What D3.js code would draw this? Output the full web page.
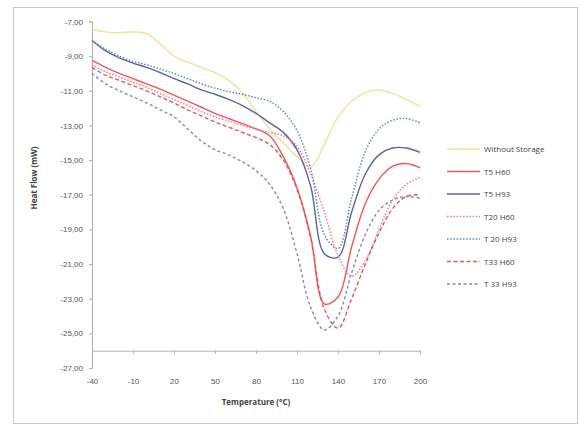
<!DOCTYPE html>
<html>
<head>
<meta charset="utf-8">
<script src="https://cdn.jsdelivr.net/npm/d3@7"></script>
<style>
  html, body { margin: 0; padding: 0; background: #fff; }
  svg { display: block; font-family: "Open Sans", "Liberation Sans", sans-serif; }
</style>
</head>
<body>
<svg id="chart" width="580" height="426"></svg>
<script>
// Temperature grid (°C)
const temperature = [-40, -30, -20, -10, 0, 10, 20, 30, 40, 50, 60, 70, 80, 90, 100, 110, 120, 130, 140, 150, 160, 170, 180, 190, 200];

// Heat flow (mW) for each storage condition
const withoutStorage = [-7.45, -7.6, -7.65, -7.6, -7.7, -8.3, -9.0, -9.35, -9.65, -9.95, -10.4, -11.1, -12.2, -13.2, -14.0, -14.8, -15.4, -14.1, -12.5, -11.6, -11.1, -10.95, -11.15, -11.5, -11.9];
const t5h60 = [-9.25, -9.65, -10.0, -10.3, -10.6, -10.9, -11.25, -11.6, -11.95, -12.3, -12.6, -12.9, -13.2, -13.6, -14.8, -16.6, -19.4, -23.3, -22.9, -20.0, -17.5, -16.1, -15.35, -15.2, -15.45];
const t5h93 = [-8.1, -8.7, -9.1, -9.4, -9.65, -9.95, -10.3, -10.6, -10.95, -11.2, -11.5, -11.85, -12.3, -12.85, -13.4, -14.4, -16.5, -20.4, -20.6, -18.0, -15.8, -14.7, -14.3, -14.3, -14.55];
const t20h60 = [-9.5, -9.9, -10.2, -10.5, -10.8, -11.15, -11.5, -11.85, -12.2, -12.5, -12.75, -13.0, -13.2, -13.4, -13.6, -14.2, -15.8, -18.0, -20.5, -21.7, -20.8, -19.0, -17.3, -16.4, -16.0];
const t20h93 = [-8.1, -8.6, -9.0, -9.3, -9.5, -9.75, -10.0, -10.3, -10.6, -10.85, -11.05, -11.2, -11.4, -11.6, -12.2, -13.3, -15.5, -19.3, -20.1, -17.2, -14.5, -13.2, -12.7, -12.6, -12.85];
const t33h60 = [-9.65, -10.1, -10.4, -10.7, -11.0, -11.35, -11.7, -12.1, -12.45, -12.8, -13.1, -13.4, -13.7, -14.1, -15.0, -16.7, -19.5, -23.6, -24.7, -23.0, -21.0, -19.2, -17.8, -17.1, -17.0];
const t33h93 = [-10.0, -10.6, -11.0, -11.35, -11.7, -12.1, -12.5, -13.2, -13.9, -14.4, -14.7, -15.1, -15.6, -16.4, -17.8, -20.4, -23.5, -24.8, -24.0, -21.5, -19.3, -17.9, -17.3, -17.1, -17.2];

const seriesNames = ["Without Storage", "T5 H60", "T5 H93", "T20 H60", "T 20 H93", "T33 H60", "T 33 H93"];
const seriesValues = [withoutStorage, t5h60, t5h93, t20h60, t20h93, t33h60, t33h93];
const seriesColors = ["#f2e294", "#f25757", "#5a62aa", "#f47a8e", "#5f8fae", "#e05a5a", "#8589b4"];
const seriesDash = [null, null, null, "1.6,1.6", "1.6,1.6", "4,2.5", "3,2.5"];

const xTicks = [-40, -10, 20, 50, 80, 110, 140, 170, 200];
const yTicks = [-27, -25, -23, -21, -19, -17, -15, -13, -11, -9, -7];

const svg = d3.select("#chart");

// outer chart frame
svg.append("rect")
  .attr("x", 13.5).attr("y", 7.5)
  .attr("width", 564).attr("height", 416)
  .attr("fill", "#fff").attr("stroke", "#c8c8c8").attr("stroke-width", 1);

const x = d3.scaleLinear().domain([-40, 200]).range([92, 420]);
const y = d3.scaleLinear().domain([-27, -7]).range([368, 21.5]);

const fmt = v => d3.format(".2f")(v).replace(".", ",").replace("−", "-");

// Y axis (crosses at -40 °C)
const yAxis = d3.axisLeft(y).tickValues(yTicks).tickFormat(fmt).tickSize(3).tickPadding(6);
const gy = svg.append("g").attr("transform", `translate(${x(-40)},0)`).call(yAxis);
gy.select(".domain").attr("stroke", "#b0b0b0");
gy.selectAll(".tick line").attr("stroke", "#b0b0b0");
gy.selectAll(".tick text").attr("fill", "#555").attr("font-size", 8);

// X axis (crosses at -26 mW)
const xAxis = d3.axisBottom(x).tickValues(xTicks).tickFormat(d => d).tickSize(3).tickPadding(25);
const gx = svg.append("g").attr("transform", `translate(0,${y(-26)})`).call(xAxis);
gx.select(".domain").attr("stroke", "#b0b0b0");
gx.selectAll(".tick line").attr("stroke", "#b0b0b0");
gx.selectAll(".tick text").attr("fill", "#555").attr("font-size", 8);

// axis titles
svg.append("text")
  .attr("x", (x(-40) + x(200)) / 2).attr("y", 405)
  .attr("text-anchor", "middle").attr("font-size", 8).attr("font-weight", "bold").attr("fill", "#444")
  .text("Temperature (°C)");
svg.append("text")
  .attr("transform", "translate(37,178) rotate(-90)")
  .attr("text-anchor", "middle").attr("font-size", 8).attr("font-weight", "bold").attr("fill", "#444")
  .text("Heat Flow (mW)");

// curves
const line = d3.line()
  .x((d, i) => x(temperature[i]))
  .y(d => y(d))
  .curve(d3.curveCatmullRom.alpha(0.5));

seriesValues.forEach((vals, k) => {
  svg.append("path")
    .datum(vals)
    .attr("d", line)
    .attr("fill", "none")
    .attr("stroke", seriesColors[k])
    .attr("stroke-width", 1.4)
    .attr("stroke-dasharray", seriesDash[k]);
});

// legend
const legend = svg.append("g");
seriesNames.forEach((name, k) => {
  const ly = 149 + k * 22.5;
  legend.append("line")
    .attr("x1", 447).attr("x2", 480).attr("y1", ly).attr("y2", ly)
    .attr("stroke", seriesColors[k]).attr("stroke-width", 1.4)
    .attr("stroke-dasharray", seriesDash[k]);
  legend.append("text")
    .attr("x", 484).attr("y", ly + 3)
    .attr("font-size", 8).attr("fill", "#444")
    .text(name);
});
</script>
</body>
</html>
